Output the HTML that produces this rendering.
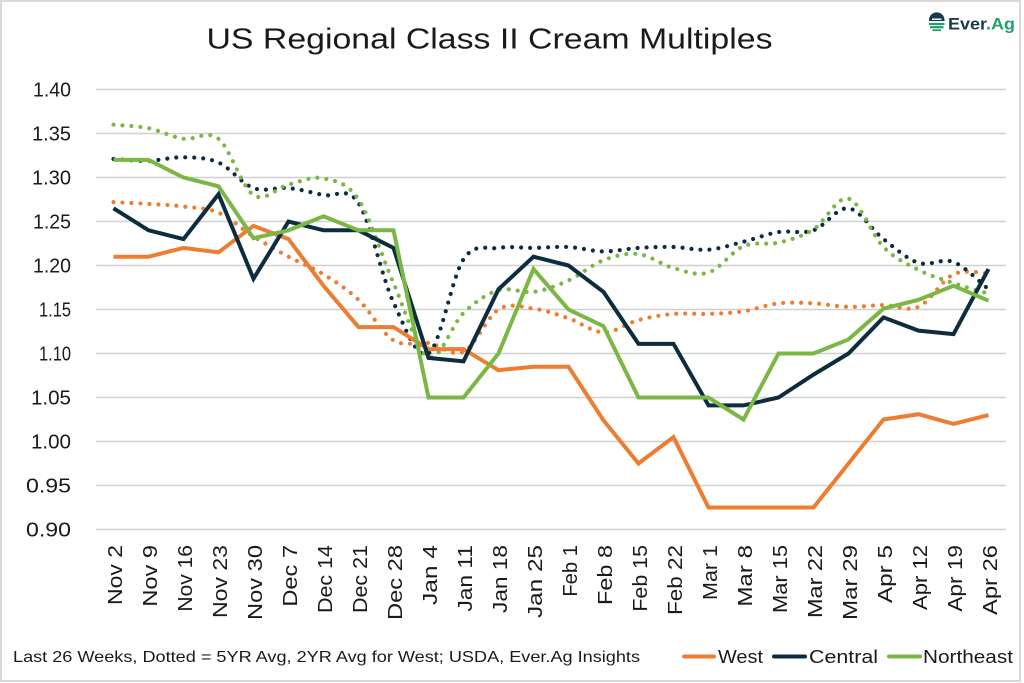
<!DOCTYPE html>
<html>
<head>
<meta charset="utf-8">
<style>
html,body{margin:0;padding:0;background:#fff;}
svg{display:block;}
text{font-family:"Liberation Sans",Arial,sans-serif;}
</style>
</head>
<body>
<svg id="chart" width="1024" height="683" viewBox="0 0 1024 683" xmlns="http://www.w3.org/2000/svg">
  <rect x="0" y="0" width="1024" height="683" fill="#fff"/>
  <rect x="1" y="1" width="1019" height="680" fill="none" stroke="#d9d9d9" stroke-width="2"/>

  <!-- Title -->
  <text x="206.5" y="48.5" font-size="29" fill="#1a1a1a" textLength="566" lengthAdjust="spacingAndGlyphs">US Regional Class II Cream Multiples</text>

  <!-- Logo -->
  <g>
    <path d="M929,21 A7.8,7.8 0 1 1 944.5,21 L929,21 Z" fill="#173a4c"/>
    <path d="M932,19.2 L941.5,19.2" stroke="#fff" stroke-width="1.4"/>
    <path d="M929,24 L944.5,24" stroke="#22a06b" stroke-width="2.2"/>
    <path d="M930,27.2 L943.5,27.2" stroke="#22a06b" stroke-width="2.2"/>
    <path d="M932.5,30.2 L941,30.2" stroke="#22a06b" stroke-width="1.8"/>
    <text x="948" y="29.5" font-size="17" font-weight="bold" fill="#173a4c" textLength="67" lengthAdjust="spacingAndGlyphs">Ever<tspan fill="#22a06b">.Ag</tspan></text>
  </g>

  <!-- Gridlines -->
  <g stroke="#d0d0d0" stroke-width="1.5">
    <line x1="96" x2="1006" y1="89.5" y2="89.5"/>
    <line x1="96" x2="1006" y1="133.5" y2="133.5"/>
    <line x1="96" x2="1006" y1="177.5" y2="177.5"/>
    <line x1="96" x2="1006" y1="221.5" y2="221.5"/>
    <line x1="96" x2="1006" y1="265.5" y2="265.5"/>
    <line x1="96" x2="1006" y1="309.5" y2="309.5"/>
    <line x1="96" x2="1006" y1="353.5" y2="353.5"/>
    <line x1="96" x2="1006" y1="397.5" y2="397.5"/>
    <line x1="96" x2="1006" y1="441.5" y2="441.5"/>
    <line x1="96" x2="1006" y1="485.5" y2="485.5"/>
    <line x1="96" x2="1006" y1="529.5" y2="529.5"/>
  </g>

  <!-- Y labels -->
  <g font-size="20" fill="#1a1a1a" text-anchor="end">
    <text x="71" y="96.5" textLength="38" lengthAdjust="spacingAndGlyphs">1.40</text>
    <text x="71" y="140.5" textLength="39" lengthAdjust="spacingAndGlyphs">1.35</text>
    <text x="71" y="184.5" textLength="39" lengthAdjust="spacingAndGlyphs">1.30</text>
    <text x="71" y="228.5" textLength="38" lengthAdjust="spacingAndGlyphs">1.25</text>
    <text x="71" y="272.5" textLength="38" lengthAdjust="spacingAndGlyphs">1.20</text>
    <text x="71" y="316.5" textLength="32" lengthAdjust="spacingAndGlyphs">1.15</text>
    <text x="71" y="360.5" textLength="32" lengthAdjust="spacingAndGlyphs">1.10</text>
    <text x="71" y="404.5" textLength="40" lengthAdjust="spacingAndGlyphs">1.05</text>
    <text x="71" y="448.5" textLength="40" lengthAdjust="spacingAndGlyphs">1.00</text>
    <text x="71" y="492.5" textLength="45" lengthAdjust="spacingAndGlyphs">0.95</text>
    <text x="71" y="536.5" textLength="45" lengthAdjust="spacingAndGlyphs">0.90</text>
  </g>

  <!-- X labels -->
  <g font-size="20" fill="#1a1a1a" text-anchor="end">
    <text transform="translate(122,545) rotate(-90)" textLength="60" lengthAdjust="spacingAndGlyphs">Nov 2</text>
    <text transform="translate(157,545) rotate(-90)" textLength="61.7" lengthAdjust="spacingAndGlyphs">Nov 9</text>
    <text transform="translate(192,545) rotate(-90)" textLength="66.7" lengthAdjust="spacingAndGlyphs">Nov 16</text>
    <text transform="translate(227,545) rotate(-90)" textLength="73" lengthAdjust="spacingAndGlyphs">Nov 23</text>
    <text transform="translate(262,545) rotate(-90)" textLength="75" lengthAdjust="spacingAndGlyphs">Nov 30</text>
    <text transform="translate(297,545) rotate(-90)" textLength="61.7" lengthAdjust="spacingAndGlyphs">Dec 7</text>
    <text transform="translate(332,545) rotate(-90)" textLength="68" lengthAdjust="spacingAndGlyphs">Dec 14</text>
    <text transform="translate(367,545) rotate(-90)" textLength="68" lengthAdjust="spacingAndGlyphs">Dec 21</text>
    <text transform="translate(402,545) rotate(-90)" textLength="75" lengthAdjust="spacingAndGlyphs">Dec 28</text>
    <text transform="translate(437,545) rotate(-90)" textLength="60" lengthAdjust="spacingAndGlyphs">Jan 4</text>
    <text transform="translate(472,545) rotate(-90)" textLength="66.7" lengthAdjust="spacingAndGlyphs">Jan 11</text>
    <text transform="translate(507,545) rotate(-90)" textLength="68" lengthAdjust="spacingAndGlyphs">Jan 18</text>
    <text transform="translate(542,545) rotate(-90)" textLength="73" lengthAdjust="spacingAndGlyphs">Jan 25</text>
    <text transform="translate(577,545) rotate(-90)" textLength="51.7" lengthAdjust="spacingAndGlyphs">Feb 1</text>
    <text transform="translate(612,545) rotate(-90)" textLength="60" lengthAdjust="spacingAndGlyphs">Feb 8</text>
    <text transform="translate(647,545) rotate(-90)" textLength="66.7" lengthAdjust="spacingAndGlyphs">Feb 15</text>
    <text transform="translate(682,545) rotate(-90)" textLength="70" lengthAdjust="spacingAndGlyphs">Feb 22</text>
    <text transform="translate(717,545) rotate(-90)" textLength="55" lengthAdjust="spacingAndGlyphs">Mar 1</text>
    <text transform="translate(752,545) rotate(-90)" textLength="61.7" lengthAdjust="spacingAndGlyphs">Mar 8</text>
    <text transform="translate(787,545) rotate(-90)" textLength="68" lengthAdjust="spacingAndGlyphs">Mar 15</text>
    <text transform="translate(822,545) rotate(-90)" textLength="73" lengthAdjust="spacingAndGlyphs">Mar 22</text>
    <text transform="translate(857,545) rotate(-90)" textLength="75" lengthAdjust="spacingAndGlyphs">Mar 29</text>
    <text transform="translate(892,545) rotate(-90)" textLength="58" lengthAdjust="spacingAndGlyphs">Apr 5</text>
    <text transform="translate(927,545) rotate(-90)" textLength="65" lengthAdjust="spacingAndGlyphs">Apr 12</text>
    <text transform="translate(962,545) rotate(-90)" textLength="66.7" lengthAdjust="spacingAndGlyphs">Apr 19</text>
    <text transform="translate(997,545) rotate(-90)" textLength="70" lengthAdjust="spacingAndGlyphs">Apr 26</text>
  </g>

  <!-- Series -->
  <g fill="none" stroke-linecap="round" stroke-linejoin="round">
    <path id="wd" stroke="#ED7D31" stroke-width="4.2" stroke-dasharray="0 9"/>
    <path id="cd" stroke="#0D2D3F" stroke-width="4.2" stroke-dasharray="0 9"/>
    <path id="nd" stroke="#7AB744" stroke-width="4.2" stroke-dasharray="0 9"/>
    <path id="ws" stroke="#ED7D31" stroke-width="4" stroke-linecap="butt" stroke-linejoin="miter"/>
    <path id="cs" stroke="#0D2D3F" stroke-width="4" stroke-linecap="butt" stroke-linejoin="miter"/>
    <path id="ns" stroke="#7AB744" stroke-width="4" stroke-linecap="butt" stroke-linejoin="miter"/>
  </g>

  <!-- Footnote -->
  <text x="13" y="662" font-size="16" fill="#1a1a1a" textLength="627" lengthAdjust="spacingAndGlyphs">Last 26 Weeks, Dotted = 5YR Avg, 2YR Avg for West; USDA, Ever.Ag Insights</text>

  <!-- Legend -->
  <g stroke-width="4" stroke-linecap="round">
    <line x1="684" x2="714" y1="656.5" y2="656.5" stroke="#ED7D31"/>
    <line x1="774" x2="805" y1="656.5" y2="656.5" stroke="#0D2D3F"/>
    <line x1="889" x2="920" y1="656.5" y2="656.5" stroke="#7AB744"/>
  </g>
  <g font-size="18" fill="#1a1a1a">
    <text x="718" y="663" textLength="45" lengthAdjust="spacingAndGlyphs">West</text>
    <text x="809" y="663" textLength="69" lengthAdjust="spacingAndGlyphs">Central</text>
    <text x="923" y="663" textLength="90" lengthAdjust="spacingAndGlyphs">Northeast</text>
  </g>
</svg>
<script>
(function(){
  var X=function(i){return 113.5+35*i;};
  var Y=function(v){return 529.5-(v-0.9)*880;};
  function poly(a){
    return a.map(function(v,i){return (i?'L':'M')+X(i).toFixed(2)+','+Y(v).toFixed(2);}).join('');
  }
  function smooth(a){
    var p=a.map(function(v,i){return [X(i),Y(v)];});
    var d='M'+p[0][0].toFixed(2)+','+p[0][1].toFixed(2);
    for(var i=0;i<p.length-1;i++){
      var p0=p[i-1]||p[i],p1=p[i],p2=p[i+1],p3=p[i+2]||p[i+1];
      var c1=[p1[0]+(p2[0]-p0[0])/6,p1[1]+(p2[1]-p0[1])/6];
      var c2=[p2[0]-(p3[0]-p1[0])/6,p2[1]-(p3[1]-p1[1])/6];
      d+='C'+c1[0].toFixed(2)+','+c1[1].toFixed(2)+' '+c2[0].toFixed(2)+','+c2[1].toFixed(2)+' '+p2[0].toFixed(2)+','+p2[1].toFixed(2);
    }
    return d;
  }
  var ws=[1.21,1.21,1.22,1.215,1.245,1.23,1.177,1.13,1.13,1.105,1.105,1.081,1.085,1.085,1.024,0.975,1.005,0.925,0.925,0.925,0.925,0.975,1.025,1.031,1.020,1.030];
  var cs=[1.265,1.240,1.230,1.281,1.185,1.250,1.240,1.240,1.220,1.095,1.091,1.173,1.210,1.200,1.170,1.111,1.111,1.041,1.041,1.050,1.076,1.100,1.141,1.126,1.122,1.196];
  var ns=[1.32,1.32,1.30,1.29,1.231,1.240,1.256,1.240,1.240,1.05,1.05,1.10,1.196,1.150,1.131,1.05,1.05,1.05,1.025,1.10,1.10,1.116,1.151,1.161,1.177,1.160];
  var wd=[1.272,1.270,1.267,1.260,1.233,1.210,1.190,1.161,1.115,1.112,1.102,1.150,1.151,1.140,1.124,1.138,1.145,1.145,1.148,1.157,1.157,1.153,1.155,1.153,1.190,1.191];
  var cd=[1.321,1.319,1.323,1.317,1.288,1.288,1.280,1.271,1.158,1.100,1.207,1.220,1.220,1.221,1.216,1.220,1.221,1.218,1.227,1.238,1.240,1.265,1.230,1.203,1.204,1.173];
  var nd=[1.360,1.356,1.344,1.344,1.280,1.292,1.299,1.275,1.180,1.096,1.146,1.172,1.170,1.183,1.206,1.213,1.197,1.192,1.222,1.226,1.241,1.276,1.221,1.195,1.180,1.168];
  document.getElementById('ws').setAttribute('d',poly(ws));
  document.getElementById('cs').setAttribute('d',poly(cs));
  document.getElementById('ns').setAttribute('d',poly(ns));
  document.getElementById('wd').setAttribute('d',smooth(wd));
  document.getElementById('cd').setAttribute('d',smooth(cd));
  document.getElementById('nd').setAttribute('d',smooth(nd));
})();
</script>
</body>
</html>
